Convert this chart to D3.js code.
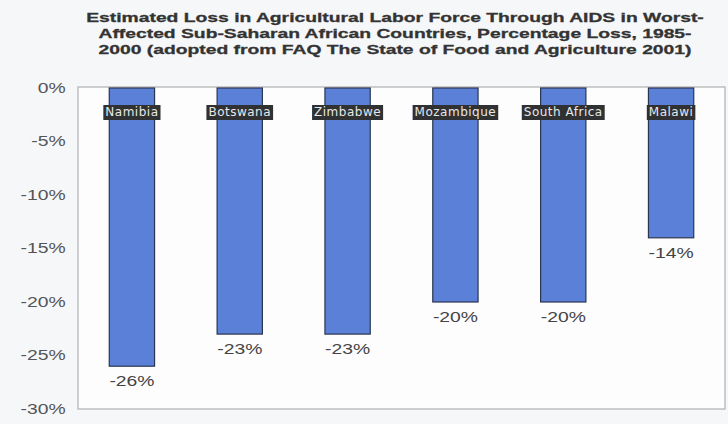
<!DOCTYPE html>
<html>
<head>
<meta charset="utf-8">
<script src="https://cdn.jsdelivr.net/npm/d3@7"></script>
<style>
  html, body { margin: 0; padding: 0; background: #f6f7f9; }
  svg { display: block; }
</style>
</head>
<body>
<div id="chart"></div>
<script>
// --- DATA ---
const countries = ["Namibia", "Botswana", "Zimbabwe", "Mozambique", "South Africa", "Malawi"];
const lossPct = [-26, -23, -23, -20, -20, -14];
const yTicks = [0, -5, -10, -15, -20, -25, -30];
const titleLines = [
  "Estimated Loss in Agricultural Labor Force Through AIDS in Worst-",
  "Affected Sub-Saharan African Countries, Percentage Loss, 1985-",
  "2000 (adopted from FAQ The State of Food and Agriculture 2001)"
];

// --- CONFIGURATION ---
const WIDTH = 728;
const HEIGHT = 424;
const PLOT = { left: 78, right: 725, top: 87, bottom: 409 };
// the scanned original is stretched sideways, so text gets a horizontal stretch
const STRETCH = 1.38;

const svg = d3.select("#chart")
  .append("svg")
  .attr("width", WIDTH)
  .attr("height", HEIGHT)
  .style("font-family", "'Liberation Sans', Arial, sans-serif");

// title
svg.append("g")
  .selectAll("text")
  .data(titleLines)
  .join("text")
  .attr("transform", (d, i) => `translate(395, ${22 + i * 16}) scale(1.43, 1)`)
  .attr("text-anchor", "middle")
  .attr("font-size", "13.5px")
  .attr("font-weight", "bold")
  .attr("stroke", "#333")
  .attr("stroke-width", 0.3)
  .attr("fill", "#333")
  .text(d => d);

// scales
const x = d3.scaleBand()
  .domain(countries)
  .range([PLOT.left, PLOT.right])
  .paddingInner(0.58)
  .paddingOuter(0.29);

const y = d3.scaleLinear()
  .domain([0, -30])
  .range([PLOT.top + 1, PLOT.bottom]);

// plot frame
svg.append("rect")
  .attr("x", PLOT.left)
  .attr("y", PLOT.top)
  .attr("width", PLOT.right - PLOT.left)
  .attr("height", PLOT.bottom - PLOT.top)
  .attr("fill", "#fdfdfe")
  .attr("stroke", "#b0b0b0")
  .attr("stroke-width", 1.2);

// y axis labels
const yAxis = d3.axisLeft(y)
  .tickValues(yTicks)
  .tickFormat(d => d + "%")
  .tickSize(0)
  .tickPadding(9);

svg.append("g")
  .attr("transform", `translate(${PLOT.left}, 0)`)
  .call(yAxis)
  .call(g => g.select(".domain").remove())
  .selectAll("text")
  .attr("transform", `scale(${STRETCH}, 1)`)
  .attr("font-family", "'Liberation Sans', Arial, sans-serif")
  .attr("font-size", "14px")
  .attr("fill", "#555");

const data = countries.map((c, i) => ({ name: c, value: lossPct[i] }));

// bars
svg.append("g")
  .selectAll("rect")
  .data(data)
  .join("rect")
  .attr("x", d => x(d.name))
  .attr("y", y(0))
  .attr("width", x.bandwidth())
  .attr("height", d => y(d.value) - y(0))
  .attr("fill", "#5b80d8")
  .attr("stroke", "#2b3550")
  .attr("stroke-width", 1.2);

// value labels below the bars
svg.append("g")
  .selectAll("text")
  .data(data)
  .join("text")
  .attr("transform", d => `translate(${x(d.name) + x.bandwidth() / 2}, ${y(d.value) + 20}) scale(${STRETCH}, 1)`)
  .attr("text-anchor", "middle")
  .attr("font-size", "14px")
  .attr("fill", "#444")
  .text(d => d.value + "%");

// category labels on dark boxes near the top of each bar
const cat = svg.append("g")
  .selectAll("g")
  .data(data)
  .join("g")
  .attr("transform", d => `translate(${x(d.name) + x.bandwidth() / 2}, 116)`);

cat.append("rect").attr("class", "bg");

cat.append("text")
  .attr("text-anchor", "middle")
  .attr("font-family", "'DejaVu Sans', Verdana, sans-serif")
  .attr("font-size", "12px")
  .attr("letter-spacing", "0.5px")
  .attr("fill", "#e8e8e8")
  .text(d => d.name);

cat.each(function () {
  const g = d3.select(this);
  const b = g.select("text").node().getBBox();
  g.select("rect.bg")
    .attr("x", b.x - 2)
    .attr("y", b.y)
    .attr("width", b.width + 4)
    .attr("height", b.height + 1)
    .attr("fill", "#2f3133");
});
</script>
</body>
</html>
